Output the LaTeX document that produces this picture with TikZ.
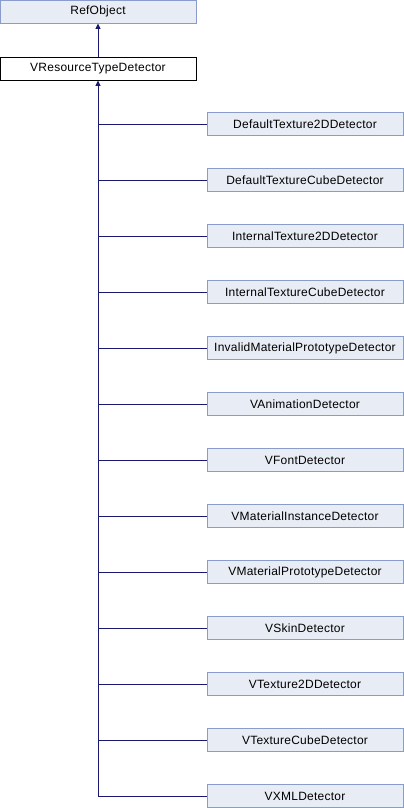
\documentclass[tikz,border=0pt]{standalone}
\usepackage{fontspec}
\setmainfont{Liberation Sans}[LetterSpace=2]
\usetikzlibrary{arrows.meta}
\definecolor{nodefill}{HTML}{E8ECF5}
\definecolor{nodeborder}{HTML}{8A9CCB}
\definecolor{edgecol}{HTML}{191970}
\begin{document}
\begin{tikzpicture}[x=1pt,y=-1pt,
  cls/.style={draw=nodeborder,fill=nodefill,line width=0.9pt,minimum width=196pt,minimum height=23pt,inner sep=0pt,font=\fontsize{12}{14}\selectfont,anchor=center},
  base/.style={cls,draw=black,fill=white},
  edge/.style={draw=edgecol,line width=0.9pt},
  inh/.style={edge,-{Triangle[length=5.5pt,width=5pt]}}]
\useasboundingbox (0,0) rectangle (404,808);
\node[cls] (ref) at (98,11.5) {RefObject};
\node[base] (vrt) at (98,68.5) {VResourceTypeDetector};
\draw[inh] (vrt.north) -- (ref.south);
\foreach \n/\t [count=\i from 0] in {
  d2d/DefaultTexture2DDetector,
  dcube/DefaultTextureCubeDetector,
  i2d/InternalTexture2DDetector,
  icube/InternalTextureCubeDetector,
  imp/InvalidMaterialPrototypeDetector,
  anim/VAnimationDetector,
  font/VFontDetector,
  mi/VMaterialInstanceDetector,
  mp/VMaterialPrototypeDetector,
  skin/VSkinDetector,
  t2d/VTexture2DDetector,
  tcube/VTextureCubeDetector,
  xml/VXMLDetector} {
  \node[cls] (\n) at (305,{124+56*\i}) {\t};
  \draw[edge] (\n.west) -- (98,{124+56*\i});
}
\draw[inh] (98,{124+56*12}) -- (vrt.south);
\end{tikzpicture}
\end{document}
